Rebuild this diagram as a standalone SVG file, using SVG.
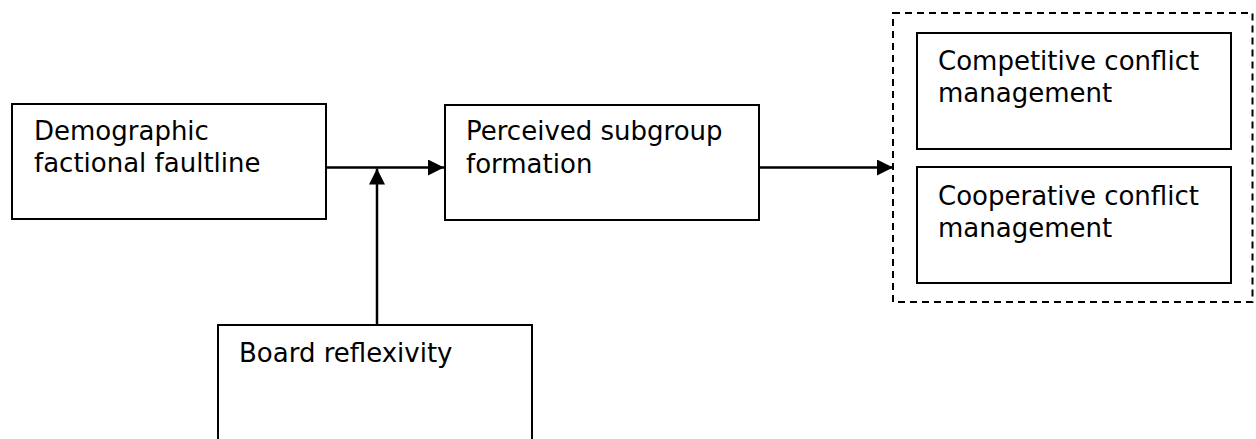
<svg xmlns="http://www.w3.org/2000/svg" width="1256" height="439" viewBox="0 0 1256 439">
  <style>
    .box { fill: #ffffff; stroke: #000000; stroke-width: 2; }
    .group { fill: none; stroke: #000000; stroke-width: 2; stroke-dasharray: 7 5; }
    .label { font-family: "DejaVu Sans", Verdana, sans-serif; font-size: 26px; fill: #000000; }
    .conn { fill: none; stroke: #000000; stroke-width: 2.5; }
  </style>
  <defs>
    <marker id="arrow" viewBox="0 0 16 16" refX="16" refY="8" markerWidth="16" markerHeight="16" markerUnits="userSpaceOnUse" orient="auto">
      <path d="M0,0 L16,8 L0,16 Z" fill="#000000"/>
    </marker>
  </defs>
  <rect width="1256" height="439" fill="#ffffff"/>

  <g id="connectors">
    <line class="conn" x1="326" y1="167.5" x2="444" y2="167.5" marker-end="url(#arrow)"/>
    <line class="conn" x1="377" y1="325" x2="377" y2="168.5" marker-end="url(#arrow)"/>
    <line class="conn" x1="759" y1="167.5" x2="893" y2="167.5" marker-end="url(#arrow)"/>
  </g>

  <g id="node-faultline">
    <rect class="box" x="12" y="104" width="314" height="115"/>
    <text class="label" x="34" y="139.5">Demographic</text>
    <text class="label" x="34" y="172">factional faultline</text>
  </g>

  <g id="node-subgroup">
    <rect class="box" x="445" y="105" width="314" height="115"/>
    <text class="label" x="466" y="140">Perceived subgroup</text>
    <text class="label" x="466" y="172.5">formation</text>
  </g>

  <g id="node-reflexivity">
    <rect class="box" x="218" y="325" width="314" height="130"/>
    <text class="label" x="239" y="362">Board reflexivity</text>
  </g>

  <g id="node-conflict-group">
    <rect class="group" x="893" y="13" width="359.5" height="289"/>
  </g>

  <g id="node-competitive">
    <rect class="box" x="917" y="33" width="314" height="116"/>
    <text class="label" x="938" y="69.5">Competitive conflict</text>
    <text class="label" x="938" y="101.5">management</text>
  </g>

  <g id="node-cooperative">
    <rect class="box" x="917" y="167" width="314" height="116"/>
    <text class="label" x="938" y="204.5">Cooperative conflict</text>
    <text class="label" x="938" y="236.5">management</text>
  </g>
</svg>
